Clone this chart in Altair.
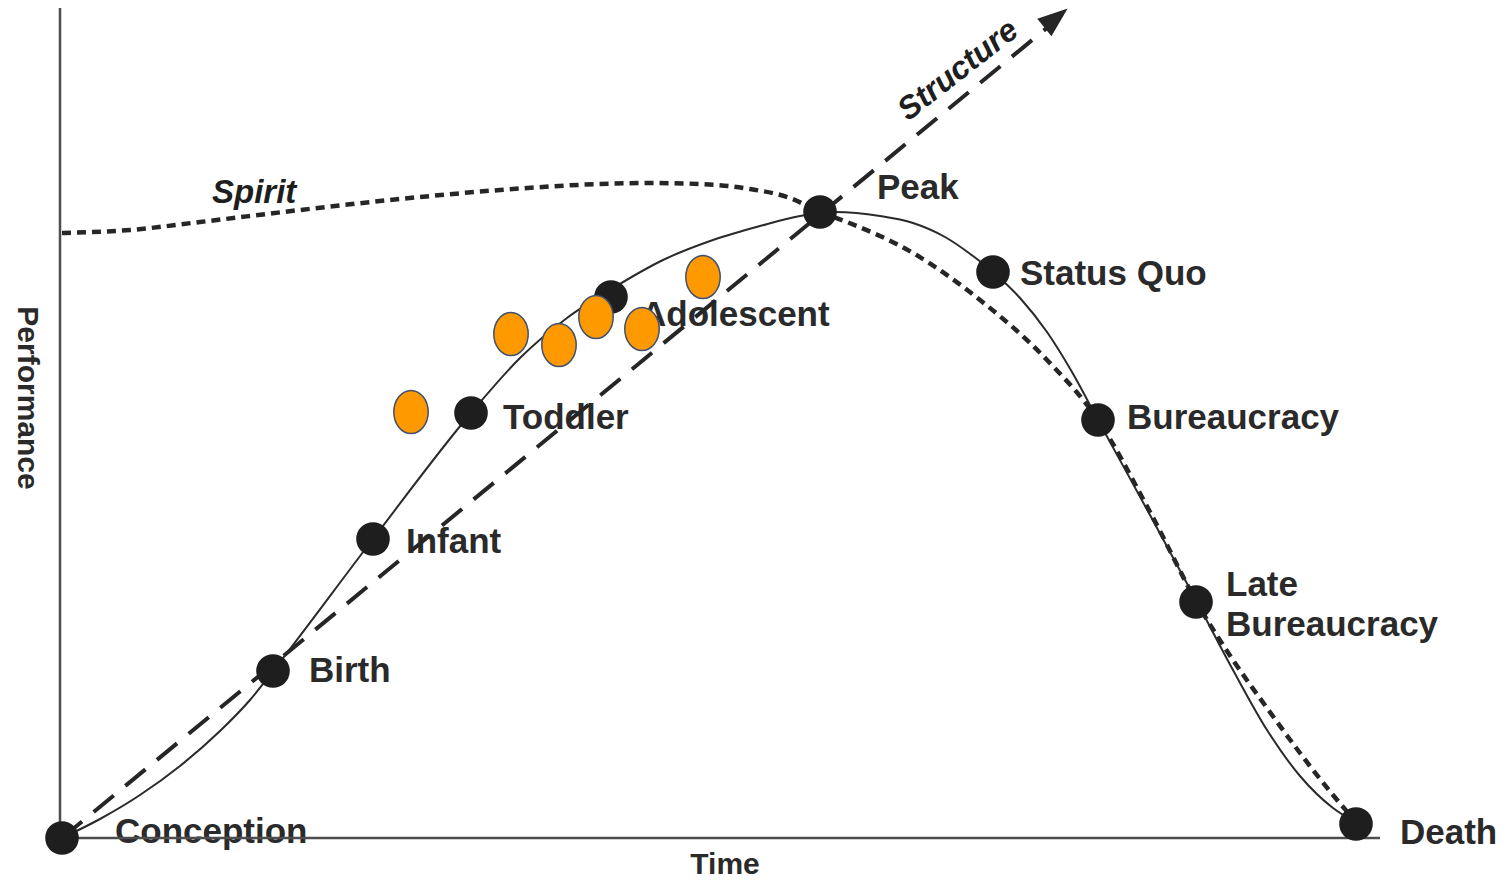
import altair as alt
import pandas as pd

# ---- data (time, performance units; origin at the axes' corner) ----
stage_names = ["Conception", "Birth", "Infant", "Toddler", "Adolescent", "Peak",
               "Status Quo", "Bureaucracy", "Late Bureaucracy", "Death"]
stage_time = [2, 213, 313, 411, 551, 760, 933, 1038, 1136, 1296]
stage_perf = [0, 167, 299, 425, 541, 626, 566, 418, 236, 14]

label_text = ["Conception", "Birth", "Infant", "Toddler", "Adolescent", "Peak",
              "Status Quo", "Bureaucracy", "Late", "Bureaucracy", "Death"]
label_time = [55, 249, 346, 443, 581, 817, 960, 1067, 1166, 1166, 1340]
label_perf = [-5, 156, 285, 409, 512, 639, 553, 409, 242, 202, -6]

perf_time = [2, 40, 80, 120, 160, 190, 213, 313, 411, 460, 507, 550, 603, 653, 700,
             740, 775, 820, 853, 885, 913, 933, 960, 987, 1012, 1038, 1090, 1137,
             1173, 1207, 1240, 1273, 1297]
perf_value = [0, 19, 43, 72, 107, 138, 167, 299, 425, 480, 520, 548, 578, 598, 612,
              622, 626, 622, 615, 601, 582, 566, 540, 506, 466, 418, 323, 236,
              168, 108, 62, 30, 15]

spirit_time = [2, 70, 140, 240, 340, 440, 540, 590, 640, 690, 730, 760, 787, 853, 920,
               987, 1038, 1090, 1140, 1173, 1207, 1240, 1273, 1296]
spirit_value = [605, 608, 616, 628, 639, 648, 654, 655, 654, 649, 640, 626, 616, 585,
                538, 478, 418, 326, 230, 178, 130, 85, 43, 16]

structure_time = [2, 988]
structure_value = [0, 811]
arrow_time = [996]
arrow_value = [820]

orange_time = [351, 451, 499, 536, 582, 643]
orange_perf = [426, 504, 493, 521, 509, 561]

axis_t = [0, 0]
axis_t2 = [0, 1320]
axis_p = [0, 0]
axis_p2 = [831, 0]

# ---- scales ----
xs = alt.Scale(domain=[-52, 1439], nice=False, zero=False)
ys = alt.Scale(domain=[-44, 830], nice=False, zero=False)
X = lambda f: alt.X(f"{f}:Q", scale=xs, axis=None)
Y = lambda f: alt.Y(f"{f}:Q", scale=ys, axis=None)

INK = "#262626"
FONT = "Liberation Sans"

labels_df = pd.DataFrame({"t": label_time, "p": label_perf, "txt": label_text})
labels = alt.Chart(labels_df).mark_text(
    align="left", baseline="alphabetic", font=FONT, fontSize=35,
    fontWeight="bold", color="#2a2a2a"
).encode(x=X("t"), y=Y("p"), text="txt:N")

spirit_lbl = alt.Chart(pd.DataFrame({"t": [152], "p": [635], "txt": ["Spirit"]})).mark_text(
    align="left", baseline="alphabetic", font=FONT, fontSize=33, fontWeight="bold",
    fontStyle="italic", color="#1e1e1e"
).encode(x=X("t"), y=Y("p"), text="txt:N")

structure_lbl = alt.Chart(pd.DataFrame({"t": [898], "p": [768], "txt": ["Structure"]})).mark_text(
    align="center", baseline="middle", font=FONT, fontSize=32, fontWeight="bold",
    fontStyle="italic", color="#1e1e1e", angle=322
).encode(x=X("t"), y=Y("p"), text="txt:N")

perf_lbl = alt.Chart(pd.DataFrame({"t": [-33], "p": [440], "txt": ["Performance"]})).mark_text(
    align="center", baseline="middle", font=FONT, fontSize=30, fontWeight="bold",
    color="#2a2a2a", angle=90
).encode(x=X("t"), y=Y("p"), text="txt:N")

time_lbl = alt.Chart(pd.DataFrame({"t": [665], "p": [-27], "txt": ["Time"]})).mark_text(
    align="center", baseline="middle", font=FONT, fontSize=30, fontWeight="bold",
    color="#2a2a2a"
).encode(x=X("t"), y=Y("p"), text="txt:N")

axes = alt.Chart(pd.DataFrame({"t": axis_t, "t2": axis_t2, "p": axis_p, "p2": axis_p2})).mark_rule(
    color="#4d4d4d", strokeWidth=2.5
).encode(x=X("t"), x2="t2:Q", y=Y("p"), y2="p2:Q")

spirit = alt.Chart(pd.DataFrame({"t": spirit_time, "p": spirit_value})).mark_line(
    interpolate="monotone", color=INK, strokeWidth=4.5, strokeDash=[9, 6]
).encode(x=X("t"), y=Y("p"))

structure = alt.Chart(pd.DataFrame({"t": structure_time, "p": structure_value})).mark_line(
    color=INK, strokeWidth=4, strokeDash=[26, 15]
).encode(x=X("t"), y=Y("p"))

arrow = alt.Chart(pd.DataFrame({"t": arrow_time, "p": arrow_value})).mark_point(
    shape="M0,-1 L0.75,1 L-0.75,1 Z", size=900, angle=51, filled=True,
    color=INK, opacity=1
).encode(x=X("t"), y=Y("p"))

perf = alt.Chart(pd.DataFrame({"t": perf_time, "p": perf_value})).mark_line(
    interpolate="monotone", color="#2a2a2a", strokeWidth=2
).encode(x=X("t"), y=Y("p"))

dots = alt.Chart(pd.DataFrame({"t": stage_time, "p": stage_perf, "name": stage_names})).mark_point(
    shape="circle", size=1130, filled=True, color="#1e1e1e", opacity=1
).encode(x=X("t"), y=Y("p"))

orange = alt.Chart(pd.DataFrame({"t": orange_time, "p": orange_perf})).mark_point(
    shape="M0,-1 A0.8,1 0 1,1 0,1 A0.8,1 0 1,1 0,-1 Z", size=1850, filled=True,
    fill="#FF9900", stroke="#3f5070", strokeWidth=1.5, opacity=1,
    fillOpacity=1, strokeOpacity=1
).encode(x=X("t"), y=Y("p"))

chart = alt.layer(
    labels, spirit_lbl, structure_lbl, perf_lbl, time_lbl,
    axes, spirit, structure, arrow, perf, dots, orange
).properties(
    width=1491, height=874,
    autosize=alt.AutoSizeParams(type="none"), padding=0
).configure_view(stroke=None)

chart.save("out.html", embed_options={"renderer": "svg", "actions": False})
